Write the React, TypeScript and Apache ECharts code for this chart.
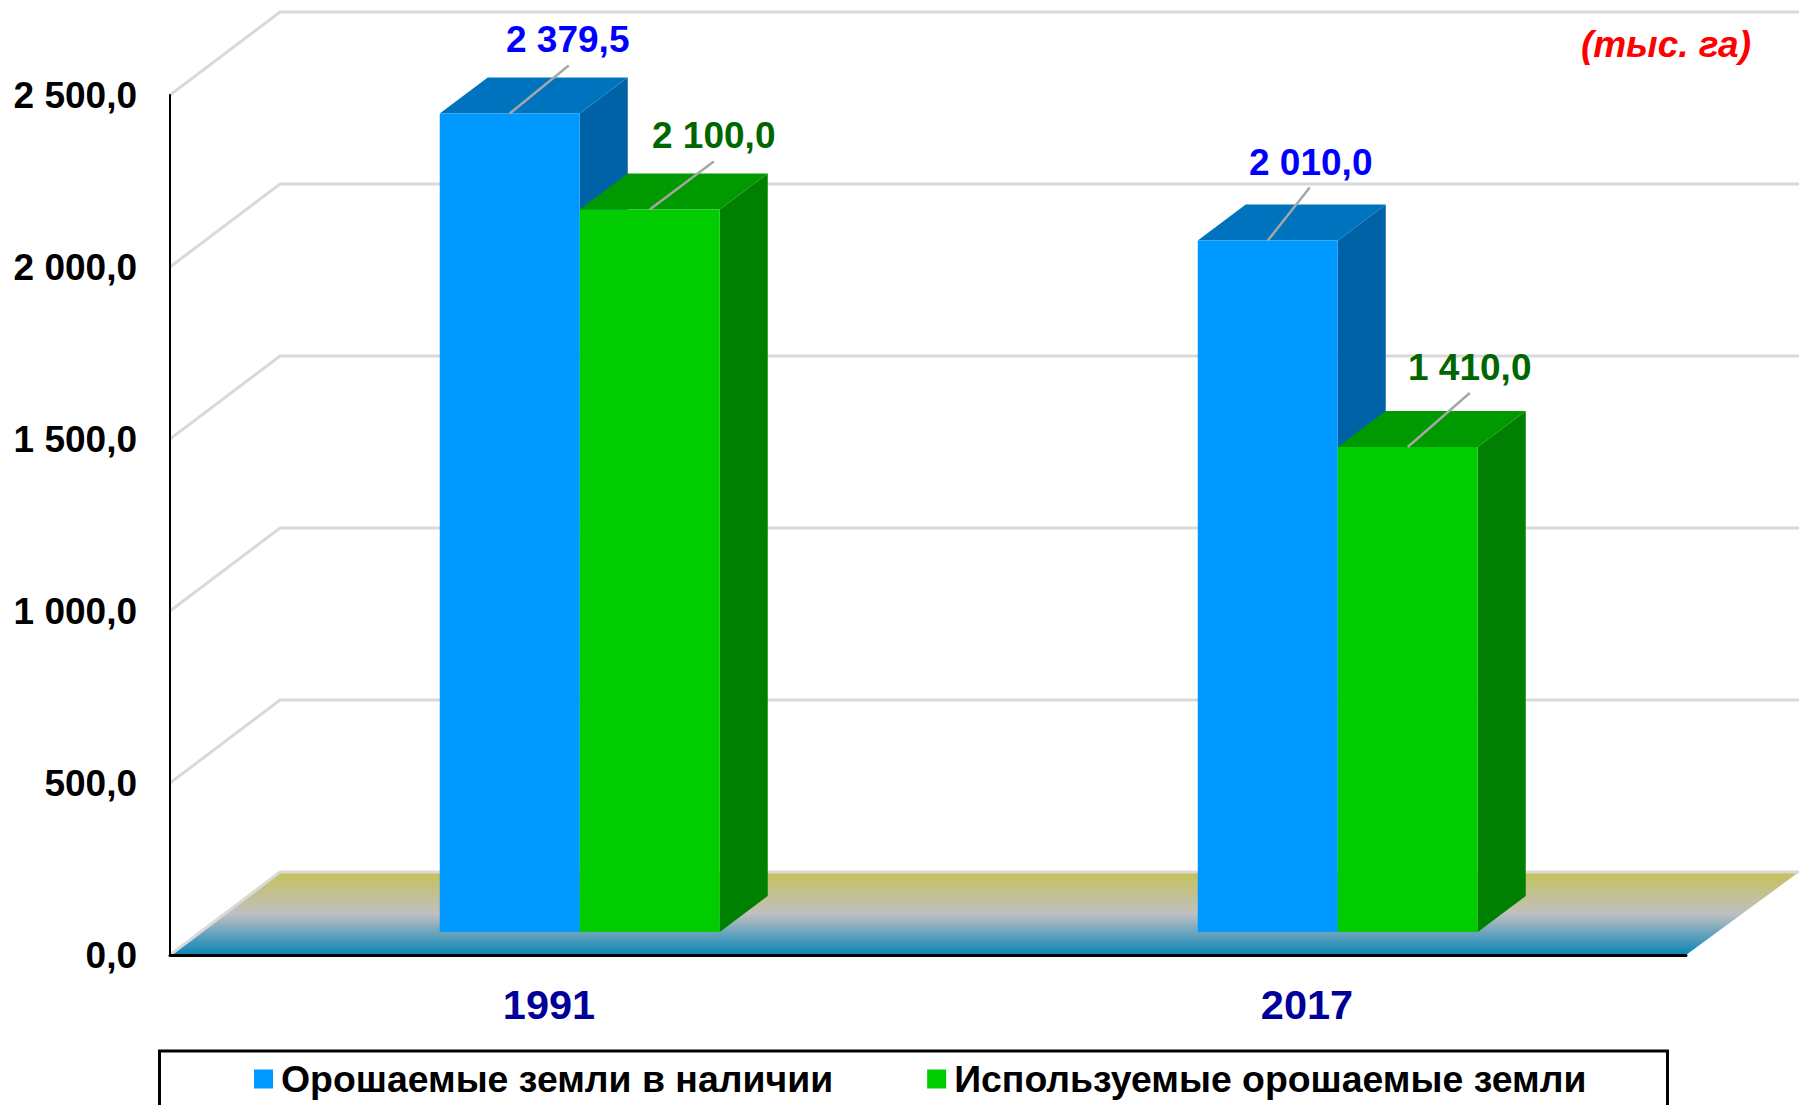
import React, { useEffect, useRef } from "react";
import * as echarts from "echarts";

const categories = ["1991", "2017"];
const seriesNames = ["Орошаемые земли в наличии", "Используемые орошаемые земли"];
const irrigatedAvailable = [2379.5, 2010.0];
const irrigatedUsed = [2100.0, 1410.0];
const axisTicks = [0, 500, 1000, 1500, 2000, 2500];
const unitLabel = "(тыс. га)";

const FONT = '"Liberation Sans", Arial, sans-serif';
const WALL_DX = 110;
const WALL_DX_RIGHT = 113;
const WALL_DY = -83;
const BAR_SHIFT_X = 30.75;
const BAR_SHIFT_Y = -23;
const BAR_W = 140;
const BAR_DX = 48;
const BAR_DY = -36;

// [label offset x, leader end x, leader end y, label offset y] per series, per category
const labelOffsets = [
  [[58, 59, -48, -74], [43, 42, -53, -78]],
  [[64, 64, -48, -74], [62, 62, -54, -79]],
];

const fmt = (v: number) => {
  const [i, d] = v.toFixed(1).split(".");
  return i.replace(/\B(?=(\d{3})(?!\d))/g, " ") + "," + d;
};

function barRenderer(seriesIdx: number, front: string, top: string, side: string, textColor: string) {
  return (params: any, api: any) => {
    const cat = api.value(0);
    const val = api.value(1);
    const [cx, yTop] = api.coord([cat, val]);
    const [, yBase] = api.coord([cat, 0]);
    const mid = cx + BAR_SHIFT_X;
    const x0 = seriesIdx === 0 ? mid - BAR_W : mid;
    const x1 = x0 + BAR_W;
    const yt = yTop + BAR_SHIFT_Y;
    const yb = yBase + BAR_SHIFT_Y;
    const off = labelOffsets[seriesIdx][cat];
    const lx = (x0 + x1) / 2;
    return {
      type: "group",
      children: [
        { type: "polygon", shape: { points: [[x1, yt], [x1 + BAR_DX, yt + BAR_DY], [x1 + BAR_DX, yb + BAR_DY], [x1, yb]] }, style: { fill: side } },
        { type: "polygon", shape: { points: [[x0, yt], [x0 + BAR_DX, yt + BAR_DY], [x1 + BAR_DX, yt + BAR_DY], [x1, yt]] }, style: { fill: top } },
        { type: "rect", shape: { x: x0, y: yt, width: BAR_W, height: yb - yt }, style: { fill: front } },
        { type: "line", shape: { x1: lx, y1: yt, x2: lx + off[1], y2: yt + off[2] }, style: { stroke: "#a6a6a6", lineWidth: 2.5 } },
        {
          type: "text",
          style: {
            x: lx + off[0], y: yt + off[3], text: fmt(val), fill: textColor,
            font: `bold 37px ${FONT}`, textAlign: "center", textVerticalAlign: "middle",
          },
        },
      ],
    };
  };
}

export default function App() {
  const ref = useRef<HTMLDivElement>(null);
  useEffect(() => {
    document.body.style.margin = "0";
    document.body.style.overflow = "hidden";
    const chart = echarts.init(ref.current!, null, { renderer: "svg" });
    chart.setOption({
      animation: false,
      backgroundColor: "#ffffff",
      grid: { left: 170, right: 118, top: 95, bottom: 150, containLabel: false },
      xAxis: {
        type: "category",
        data: categories,
        z: 5,
        axisLine: { show: true, lineStyle: { color: "#000000", width: 3 } },
        axisTick: { show: false },
        axisLabel: { color: "#000099", fontFamily: FONT, fontWeight: "bold", fontSize: 41.5, margin: 28 },
      },
      yAxis: {
        type: "value",
        min: 0,
        max: 2500,
        interval: 500,
        z: 5,
        axisLine: { show: true, lineStyle: { color: "#000000", width: 2 } },
        axisTick: { show: false },
        splitLine: { show: false },
        axisLabel: {
          color: "#000000", fontFamily: FONT, fontWeight: "bold", fontSize: 37, margin: 33,
          formatter: (v: number) => fmt(v),
        },
      },
      legend: {
        data: seriesNames,
        left: 254,
        top: 1059,
        padding: 0,
        itemWidth: 19,
        itemHeight: 19,
        itemGap: 0,
        icon: "rect",
        selectedMode: false,
        textStyle: { color: "#000000", fontFamily: FONT, fontWeight: "bold", fontSize: 37.4, padding: [0, 94, 0, 3], lineHeight: 40 },
      },
      graphic: [
        { type: "rect", z: -1, shape: { x: 159.5, y: 1051, width: 1508, height: 80 }, style: { fill: "none", stroke: "#000000", lineWidth: 3 } },
        { type: "text", x: 1751, y: 44, style: { text: unitLabel, fill: "#ff0000", font: `italic bold 37px ${FONT}`, textAlign: "right", textVerticalAlign: "middle" } },
      ],
      series: [
        {
          type: "custom",
          name: "floor",
          silent: true,
          z: 1,
          clip: false,
          data: [[0]],
          renderItem: (params: any, api: any) => {
            const cs = params.coordSys;
            const y = api.coord([0, 0])[1];
            return {
              type: "polygon",
              shape: { points: [[cs.x, y], [cs.x + WALL_DX, y + WALL_DY], [cs.x + cs.width + WALL_DX_RIGHT, y + WALL_DY], [cs.x + cs.width, y]] },
              style: {
                fill: new echarts.graphic.LinearGradient(0, 0, 0, 1, [
                  { offset: 0, color: "#c4c258" },
                  { offset: 0.5, color: "#c0c0c0" },
                  { offset: 1, color: "#0885b8" },
                ]),
              },
            };
          },
        },
        {
          type: "custom",
          name: "walls",
          silent: true,
          z: 1,
          clip: false,
          data: axisTicks.map((t) => [t]),
          renderItem: (params: any, api: any) => {
            const cs = params.coordSys;
            const y = api.coord([0, api.value(0)])[1];
            return {
              type: "polyline",
              shape: { points: [[cs.x, y], [cs.x + WALL_DX, y + WALL_DY], [cs.x + cs.width + WALL_DX_RIGHT, y + WALL_DY]] },
              style: { stroke: "#d9d9d9", lineWidth: 3, fill: "none" },
            };
          },
        },
        {
          type: "custom",
          name: seriesNames[0],
          z: 3,
          clip: false,
          itemStyle: { color: "#0099ff" },
          data: irrigatedAvailable.map((v, i) => [i, v]),
          encode: { x: 0, y: 1 },
          renderItem: barRenderer(0, "#0099ff", "#0073bf", "#0062a6", "#0000ff"),
        },
        {
          type: "custom",
          name: seriesNames[1],
          z: 4,
          clip: false,
          itemStyle: { color: "#00cc00" },
          data: irrigatedUsed.map((v, i) => [i, v]),
          encode: { x: 0, y: 1 },
          renderItem: barRenderer(1, "#00cc00", "#009900", "#008000", "#006600"),
        },
      ],
    });
    return () => chart.dispose();
  }, []);
  return <div ref={ref} style={{ position: "absolute", left: 0, top: 0, width: 1804, height: 1105 }} />;
}
